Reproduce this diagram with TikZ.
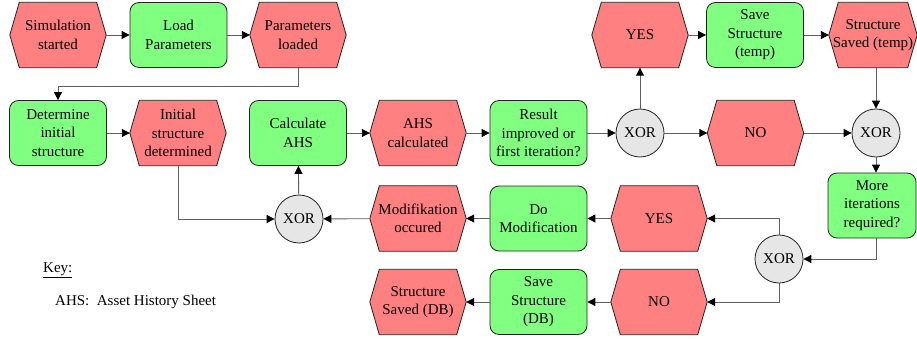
\documentclass[tikz,border=0pt]{standalone}
\usepackage{fontspec}
\setmainfont{Liberation Serif}
\usetikzlibrary{arrows.meta,backgrounds}
\definecolor{evred}{HTML}{FF8080}
\definecolor{fngreen}{HTML}{80FF80}
\definecolor{xorgray}{HTML}{E6E6E6}
\definecolor{linegray}{HTML}{606060}
\definecolor{edgecol}{HTML}{222222}
\tikzset{
 base/.style={font=\fontsize{15}{18.5}\selectfont, align=center, inner sep=0pt},
 fn/.style={base, draw=edgecol, fill=fngreen, rounded corners=9pt, minimum width=97pt, minimum height=65pt, line width=0.8pt},
 ev/.style={base, minimum width=96pt, minimum height=65pt},
 hexshape/.style={draw=edgecol, fill=evred, line width=0.8pt},
 xor/.style={base, circle, draw=edgecol, fill=xorgray, minimum size=48pt, line width=0.8pt},
 flow/.style={draw=linegray, line width=0.9pt, -{Triangle[length=8pt,width=8pt,color=black]}},
 keytext/.style={font=\fontsize{15}{18}\selectfont, anchor=west, inner sep=0pt},
}
\newcommand\evhex[4][96pt]{% width, name, at, text
  \node[ev, minimum width=#1] (#2) at (#3) {#4};
  \begin{scope}[on background layer]
   \path[hexshape] (#2.west) -- ([xshift=9.5pt]#2.north west) -- ([xshift=-9.5pt]#2.north east) -- (#2.east) -- ([xshift=-9.5pt]#2.south east) -- ([xshift=9.5pt]#2.south west) -- cycle;
  \end{scope}}
\begin{document}
\begin{tikzpicture}[x=1pt,y=-1pt]
\useasboundingbox (0,0) rectangle (917,339);
% row 1
\evhex{sim}{58,35}{Simulation\\started}
\node[fn] (load) at (178.5,35) {Load\\Parameters};
\evhex{parl}{298,35}{Parameters\\loaded}
\evhex{yesa}{640,35}{YES}
\node[fn] (savetemp) at (755,35) {Save\\Structure\\(temp)};
\evhex[88pt]{savedtemp}{873,35}{Structure\\Saved (temp)}
% row 2
\node[fn] (det) at (58,133) {Determine\\initial\\structure};
\evhex{init}{178,133}{Initial\\structure\\determined}
\node[fn] (calc) at (298,133) {Calculate\\AHS};
\evhex{ahs}{418,133}{AHS\\calculated}
\node[fn] (result) at (538.5,133) {Result\\improved or\\first iteration?};
\node[xor] (xora) at (640,133) {XOR};
\evhex{noa}{755.5,133}{NO}
\node[xor] (xorb) at (876,133) {XOR};
% row 3
\node[xor] (xorc) at (299,219) {XOR};
\evhex{modif}{418,218.5}{Modifikation\\occured}
\node[fn] (domod) at (538.5,218.5) {Do\\Modification};
\evhex{yesb}{659,218.5}{YES}
\node[fn, minimum width=88pt] (more) at (872,205.5) {More\\iterations\\required?};
\node[xor] (xord) at (779,259) {XOR};
% row 4
\evhex{saveddb}{418,302}{Structure\\Saved (DB)}
\node[fn] (savedb) at (538.5,302) {Save\\Structure\\(DB)};
\evhex{nob}{659,302}{NO}
% key
\node[keytext] (key) at (43,270) {\underline{Key:}};
\node[keytext] (ahskey) at (55,302) {AHS:\ \ Asset History Sheet};
% connectors
\draw[flow] (sim) -- (load);
\draw[flow] (load) -- (parl);
\draw[flow] (parl.south) -- ++(0,18.5) -| (det.north);
\draw[flow] (det) -- (init);
\draw[flow] (init.south) |- (xorc.west);
\draw[flow] (modif) -- (xorc);
\draw[flow] (xorc) -- (calc);
\draw[flow] (calc) -- (ahs);
\draw[flow] (ahs) -- (result);
\draw[flow] (result) -- (xora);
\draw[flow] (xora) -- (noa);
\draw[flow] (noa) -- (xorb);
\draw[flow] (xora) -- (yesa);
\draw[flow] (yesa) -- (savetemp);
\draw[flow] (savetemp) -- (savedtemp);
\draw[flow] (xorb.north |- savedtemp.south) -- (xorb.north);
\draw[flow] (xorb.south) -- (xorb.south |- more.north);
\draw[flow] (xorb.south |- more.south) |- (xord.east);
\draw[flow] (xord.north) |- (yesb.east);
\draw[flow] (xord.south) |- (nob.east);
\draw[flow] (yesb) -- (domod);
\draw[flow] (domod) -- (modif);
\draw[flow] (nob) -- (savedb);
\draw[flow] (savedb) -- (saveddb);
\end{tikzpicture}
\end{document}
